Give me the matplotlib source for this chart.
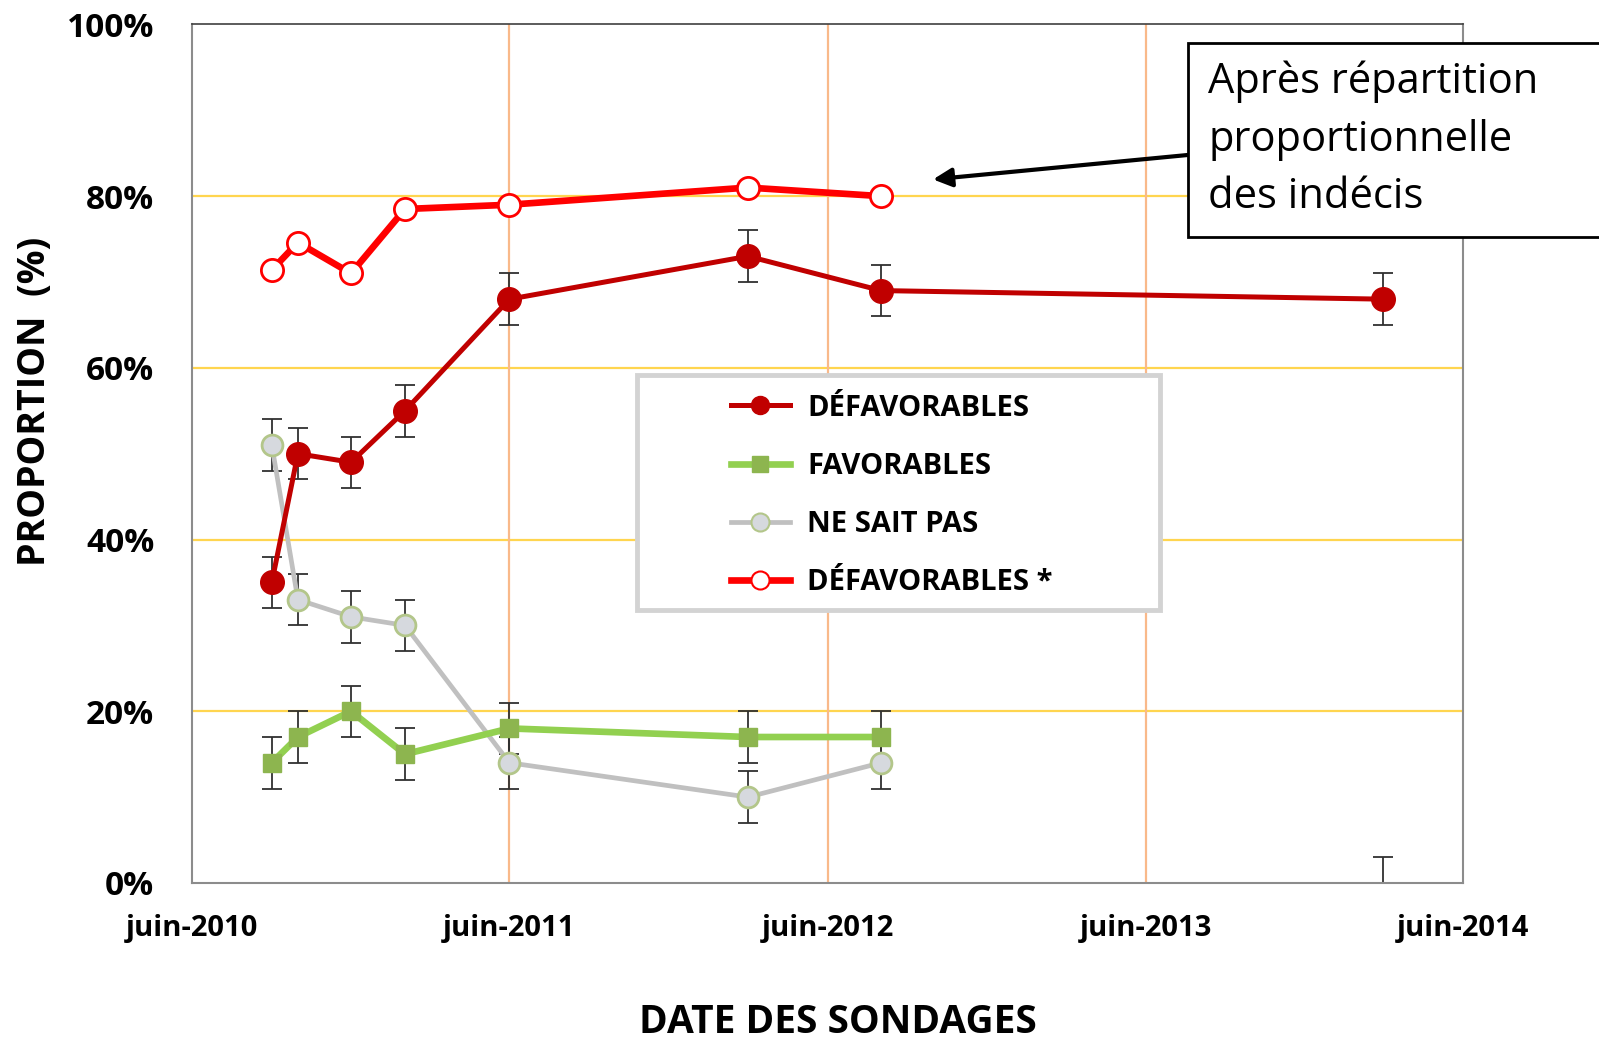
import datetime as dt

import matplotlib.pyplot as plt
from matplotlib.lines import Line2D
from matplotlib.patches import Rectangle

# Dates des sondages
dates = [dt.date(2010, 9, 1), dt.date(2010, 10, 1), dt.date(2010, 12, 1), dt.date(2011, 2, 1),
         dt.date(2011, 6, 1), dt.date(2012, 3, 1), dt.date(2012, 8, 1), dt.date(2014, 3, 1)]
defavorables = [35, 50, 49, 55, 68, 73, 69, 68]
favorables = [14, 17, 20, 15, 18, 17, 17]
ne_sait_pas = [51, 33, 31, 30, 14, 10, 14]
defavorables_star = [71.4, 74.6, 71.0, 78.5, 79.0, 81.0, 80.0]
err = 3  # marge d'erreur (+/- 3 points)
fav_2014 = 0  # valeur manquante, seule la barre d'erreur apparait

year_ticks = [dt.date(y, 6, 1) for y in range(2010, 2015)]
year_labels = [f'juin-{y}' for y in range(2010, 2015)]

FONT = 'Open Sans'
plt.rcParams['font.family'] = [FONT, 'DejaVu Sans']


def main():
    fig = plt.figure(figsize=(15.99, 10.40), dpi=100)
    ax = fig.add_axes([0.1199, 0.151, 0.7953, 0.8255])

    # Grille
    for y in [20, 40, 60, 80]:
        ax.axhline(y, color='#FFD54F', lw=1.6, zorder=0)
    for d in year_ticks[1:-1]:
        ax.axvline(d, color='#F9B98A', lw=1.6, zorder=0)

    ebkw = dict(fmt='none', ecolor='#303030', elinewidth=1.3, capsize=7, capthick=1.3, zorder=2)
    ax.errorbar(dates, defavorables, yerr=err, **ebkw)
    ax.errorbar(dates[:7], favorables, yerr=err, **ebkw)
    ax.errorbar(dates[:7], ne_sait_pas, yerr=err, **ebkw)
    ax.errorbar([dates[7]], [fav_2014], yerr=err, **ebkw)

    ax.plot(dates[:7], ne_sait_pas, color='#C0C0C0', lw=3.4, marker='o', ms=15,
            mfc='#D6D9DE', mec='#B3C68A', mew=2, zorder=3)
    ax.plot(dates[:7], favorables, color='#92D050', lw=4.8, marker='s', ms=13,
            mfc='#8DB54F', mec='#8DB54F', zorder=4)
    ax.plot(dates, defavorables, color='#C00000', lw=3.6, marker='o', ms=17,
            mfc='#C00000', mec='#C00000', zorder=5)
    ax.plot(dates[:7], defavorables_star, color='#FF0000', lw=4.8, marker='o', ms=16,
            mfc='white', mec='#FF0000', mew=2, zorder=5)

    ax.set_xlim(year_ticks[0], year_ticks[-1])
    ax.set_ylim(0, 100)
    ax.set_xticks(year_ticks)
    ax.set_xticklabels(year_labels, fontsize=21, fontweight='bold')
    ax.set_yticks([0, 20, 40, 60, 80, 100])
    ax.set_yticklabels([f'{v}%' for v in range(0, 101, 20)], fontsize=24, fontweight='bold')
    ax.tick_params(length=0)
    ax.tick_params(axis='x', pad=22)
    ax.tick_params(axis='y', pad=27)
    for s in ['left', 'right', 'bottom']:
        ax.spines[s].set_color('#8C8C8C')
        ax.spines[s].set_linewidth(1.5)
    ax.spines['top'].set_color('#404040')
    ax.spines['top'].set_linewidth(1.2)

    fig.text(0.022, 0.614, 'PROPORTION  (%)', fontsize=27, fontweight='bold', rotation=90,
             ha='center', va='center')
    fig.text(0.524, 0.0167, 'DATE DES SONDAGES', fontsize=28, fontweight='bold', ha='center', va='center')

    # Legende : cadre dessine a part pour garder la grande marge a gauche
    frame = Rectangle((0.3504, 0.3183), 0.4114, 0.2731, transform=ax.transAxes, facecolor='white',
                      edgecolor='#D3D3D3', lw=3.5, zorder=9)
    ax.add_patch(frame)
    handles = [
        Line2D([], [], color='#C00000', lw=3.6, marker='o', ms=13, mfc='#C00000', mec='#C00000'),
        Line2D([], [], color='#92D050', lw=4.8, marker='s', ms=12, mfc='#8DB54F', mec='#8DB54F'),
        Line2D([], [], color='#C0C0C0', lw=3.4, marker='o', ms=13, mfc='#D6D9DE', mec='#B3C68A', mew=1.5),
        Line2D([], [], color='#FF0000', lw=4.8, marker='o', ms=13, mfc='white', mec='#FF0000', mew=1.5),
    ]
    labels = ['DÉFAVORABLES', 'FAVORABLES', 'NE SAIT PAS', 'DÉFAVORABLES *']
    leg = ax.legend(handles, labels, loc='upper left', bbox_to_anchor=(0.4242, 0.570),
                    prop={'family': FONT, 'weight': 'bold', 'size': 21}, frameon=False,
                    handlelength=2.0, handletextpad=0.6, labelspacing=1.0, borderpad=0,
                    borderaxespad=0)
    leg.set_zorder(10)

    # Encadre d'annotation
    box = Rectangle((0.743, 0.7725), 0.3, 0.186, transform=fig.transFigure, fill=True,
                    facecolor='white', edgecolor='black', lw=2, clip_on=False, zorder=20)
    fig.patches.append(box)
    fig.text(0.7557, 0.866, 'Après répartition\nproportionnelle\ndes indécis', fontsize=30,
             ha='left', va='center', linespacing=1.48, zorder=21)
    ax.annotate('', xy=(0.5835, 0.8275), xycoords='figure fraction',
                xytext=(0.743, 0.851), textcoords='figure fraction',
                arrowprops=dict(arrowstyle='-|>', color='black', lw=3, mutation_scale=28,
                                shrinkA=0, shrinkB=0), zorder=21)

    fig.savefig('out.png', dpi=100)


if __name__ == '__main__':
    main()
